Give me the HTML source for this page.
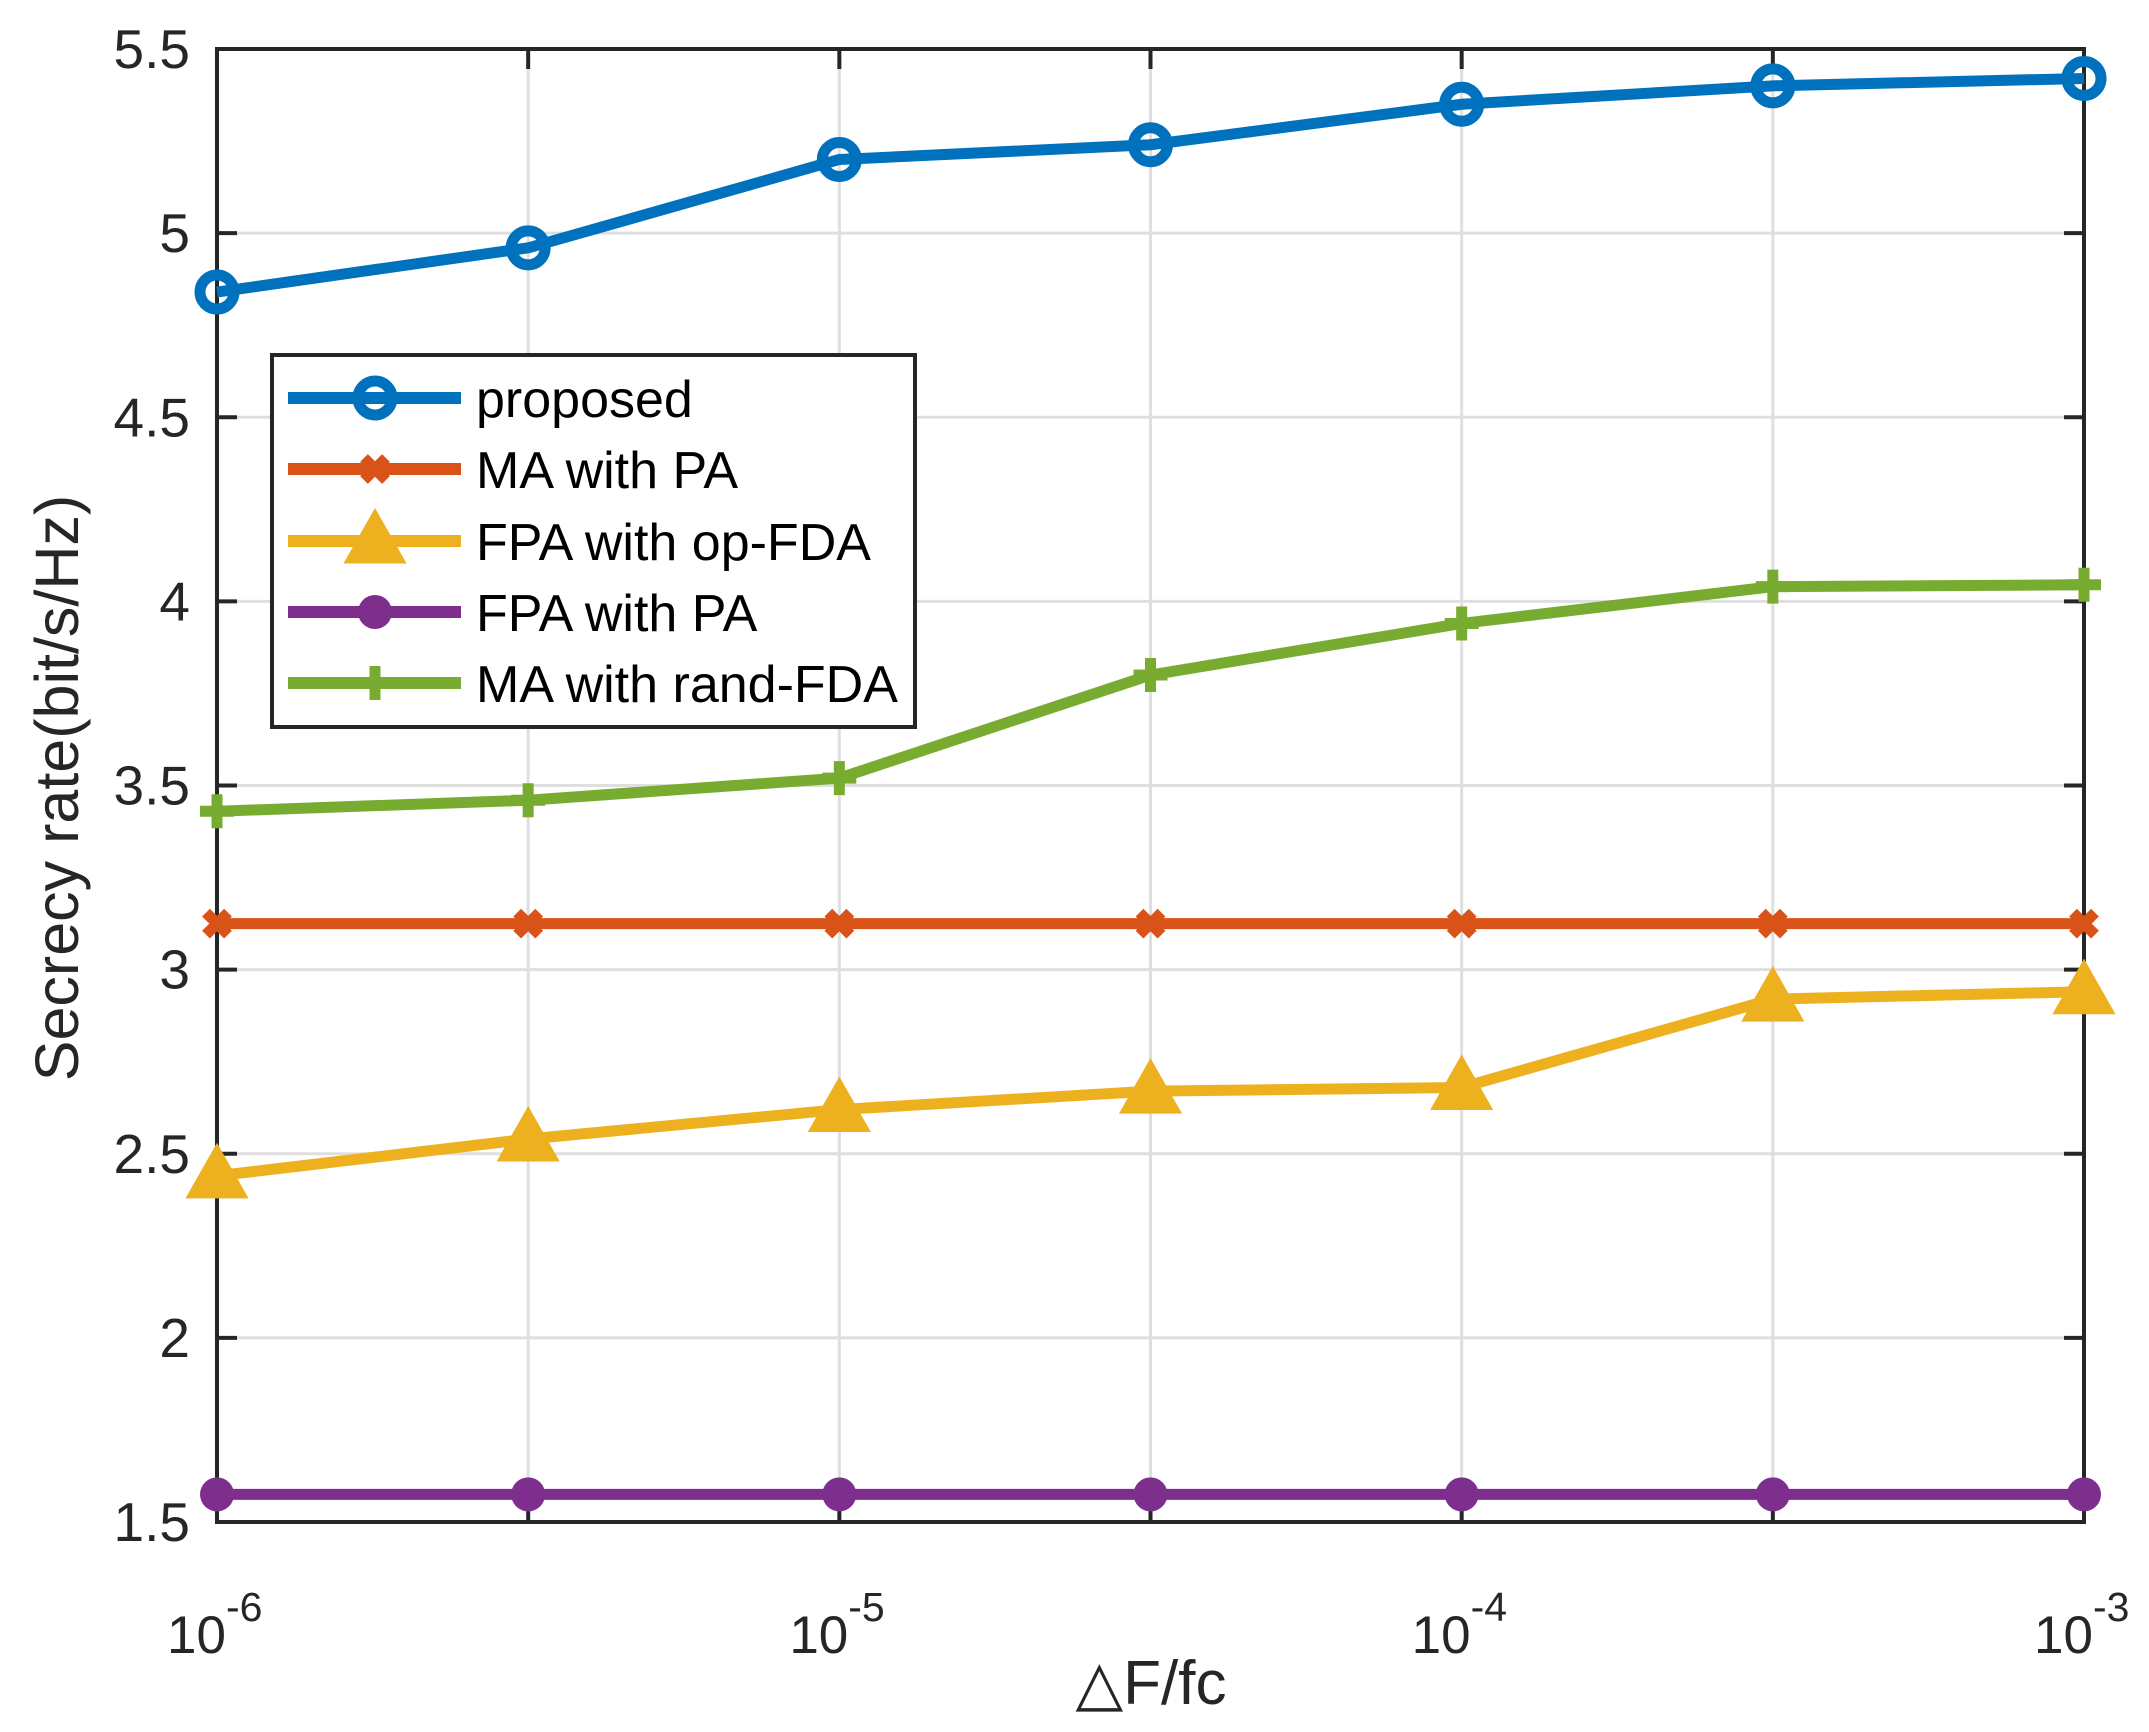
<!DOCTYPE html>
<html><head><meta charset="utf-8"><style>
html,body{margin:0;padding:0;background:#fff;}
svg{display:block;font-family:"Liberation Sans",Arial,sans-serif;}
</style></head><body>
<svg id="chart" width="2149" height="1732" viewBox="0 0 2149 1732" xmlns="http://www.w3.org/2000/svg">
<rect x="0" y="0" width="2149" height="1732" fill="#fff"/>
<g id="grid"></g>
<g id="axes"></g>
<g id="series"></g>
<g id="legend"></g>
<text x="1151" y="1704" font-size="62" text-anchor="middle" fill="#262626">△F/fc</text>
<text x="0" y="0" font-size="61" text-anchor="middle" fill="#262626" transform="translate(78,788) rotate(-90)">Secrecy rate(bit/s/Hz)</text>
</svg>
<script>
const xLogs = [-6, -5.5, -5, -4.5, -4, -3.5, -3];
const proposed = [4.84, 4.96, 5.2, 5.24, 5.35, 5.4, 5.42];
const maWithPa = [3.125, 3.125, 3.125, 3.125, 3.125, 3.125, 3.125];
const fpaOpFda = [2.44, 2.54, 2.62, 2.67, 2.68, 2.92, 2.94];
const fpaWithPa = [1.575, 1.575, 1.575, 1.575, 1.575, 1.575, 1.575];
const maRandFda = [3.43, 3.46, 3.52, 3.8, 3.94, 4.04, 4.045];
const yTicks = [1.5, 2, 2.5, 3, 3.5, 4, 4.5, 5, 5.5];
const yTickLabels = ["1.5","2","2.5","3","3.5","4","4.5","5","5.5"];
const xTickExps = [-6, -5, -4, -3];
const legendLabels = ["proposed","MA with PA","FPA with op-FDA","FPA with PA","MA with rand-FDA"];

const L=217,R=2084,T=49,B=1522;
const xs = v => L + (v - (-6)) / 3 * (R - L);
const ys = v => B - (v - 1.5) / 4 * (B - T);
const NS="http://www.w3.org/2000/svg";
function mk(tag, attrs, parent){const e=document.createElementNS(NS,tag);for(const k in attrs)e.setAttribute(k,attrs[k]);parent.appendChild(e);return e;}
const grid=document.getElementById('grid'),axes=document.getElementById('axes'),series=document.getElementById('series'),legend=document.getElementById('legend');

xLogs.forEach(v=>{const g=mk('line',{x1:xs(v),x2:xs(v),y1:T,y2:B,stroke:'#dfdfdf','stroke-width':3},grid);

});
yTicks.forEach(v=>{const g=mk('line',{x1:L,x2:R,y1:ys(v),y2:ys(v),stroke:'#dfdfdf','stroke-width':3},grid);

});

const box=mk('rect',{x:L,y:T,width:R-L,height:B-T,fill:'none',stroke:'#262626','stroke-width':4},axes);


yTicks.forEach((v,i)=>{
 mk('line',{x1:L,x2:L+20,y1:ys(v),y2:ys(v),stroke:'#262626','stroke-width':4},axes);
 mk('line',{x1:R,x2:R-20,y1:ys(v),y2:ys(v),stroke:'#262626','stroke-width':4},axes);
 const t=mk('text',{x:190,y:ys(v)+19,'font-size':55,'text-anchor':'end',fill:'#262626'},axes);
 t.textContent=yTickLabels[i];
 
 
});
xLogs.forEach(v=>{
 mk('line',{x1:xs(v),x2:xs(v),y1:B,y2:B-20,stroke:'#262626','stroke-width':4},axes);
 mk('line',{x1:xs(v),x2:xs(v),y1:T,y2:T+20,stroke:'#262626','stroke-width':4},axes);
});
xTickExps.forEach(e=>{
 const t=mk('text',{x:xs(e)-50,y:1653,'font-size':53,fill:'#262626'},axes);
 t.textContent='10';
 const s=mk('tspan',{dy:-32,'font-size':41},t);
 s.textContent=String(e);
 
 
});

const colors=['#0072bd','#d95319','#edb120','#7e2f8e','#77ac30'];
const data=[proposed,maWithPa,fpaOpFda,fpaWithPa,maRandFda];
const names=['proposed','ma-with-pa','fpa-with-op-fda','fpa-with-pa','ma-with-rand-fda'];

function marker(kind,x,y,c,parent){
 let e;
 if(kind===0){e=mk('circle',{cx:x,cy:y,r:17,fill:'none',stroke:c,'stroke-width':11},parent);}
 else if(kind===1){e=mk('path',{d:`M${x-11},${y-11}L${x+11},${y+11}M${x-11},${y+11}L${x+11},${y-11}`,stroke:c,'stroke-width':11,fill:'none'},parent);}
 else if(kind===2){e=mk('path',{d:`M${x},${y-30}L${x+29},${y+21}L${x-29},${y+21}Z`,fill:c,stroke:c,'stroke-width':3},parent);}
 else if(kind===3){e=mk('circle',{cx:x,cy:y,r:17,fill:c},parent);}
 else {e=mk('path',{d:`M${x},${y-17}V${y+17}M${x-17},${y}H${x+17}`,stroke:c,'stroke-width':11,fill:'none'},parent);}
 
 
}

data.forEach((arr,si)=>{
 const g=mk('g',{},series);
 
 
 const pts=arr.map((v,i)=>xs(xLogs[i])+','+ys(v)).join(' ');
 const pl=mk('polyline',{points:pts,fill:'none',stroke:colors[si],'stroke-width':11,'stroke-linejoin':'round'},g);
 
 
 arr.forEach((v,i)=>marker(si,xs(xLogs[i]),ys(v),colors[si],g));
});

const lb=mk('rect',{x:272,y:355,width:643,height:372,fill:'#fff',stroke:'#262626','stroke-width':4},legend);


const rowY=[398,469,541,612,683];
legendLabels.forEach((lab,i)=>{
 const g=mk('g',{},legend);
 
 
 mk('line',{x1:288,x2:461,y1:rowY[i],y2:rowY[i],stroke:colors[i],'stroke-width':12},g);
 marker(i,375,rowY[i],colors[i],g);
 const t=mk('text',{x:476,y:rowY[i]+19,'font-size':52,fill:'#000'},g);
 t.textContent=lab;
 
 
});
</script>
</body></html>
